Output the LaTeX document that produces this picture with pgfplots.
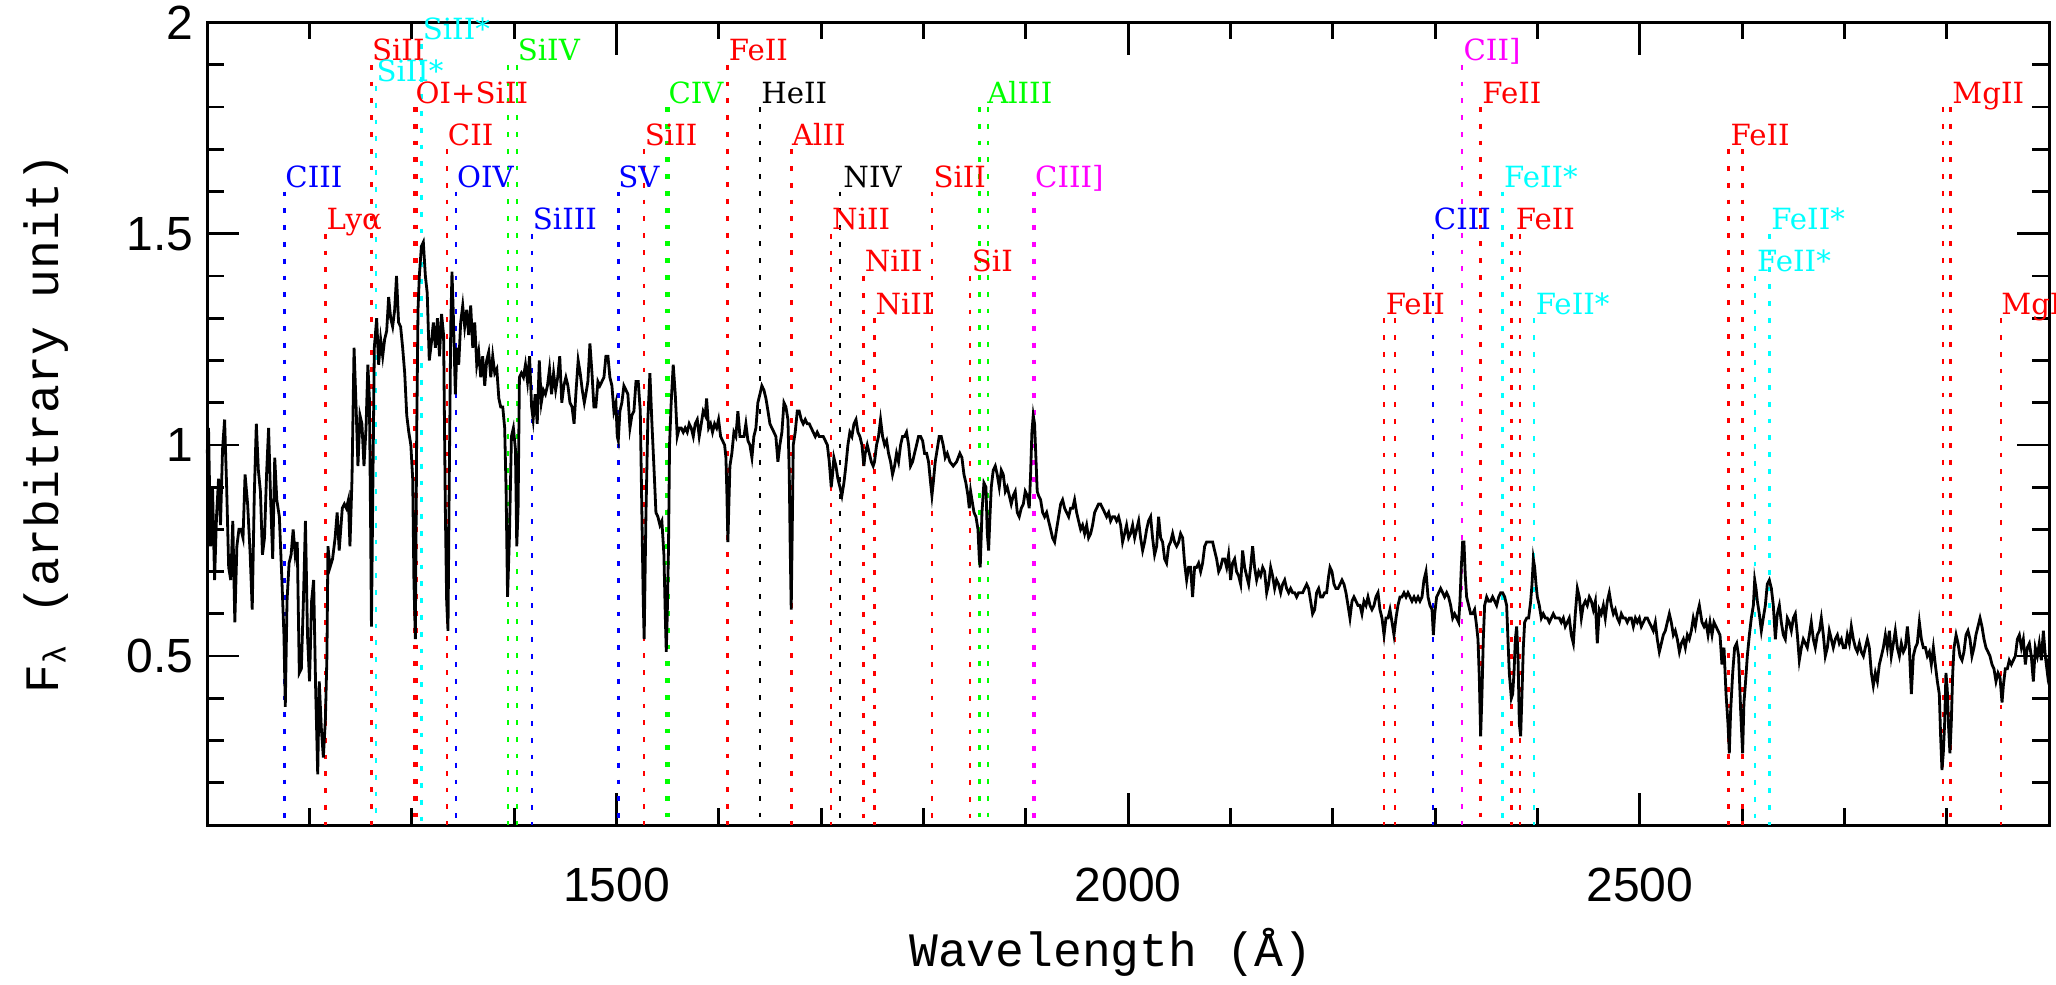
\documentclass[border=0pt]{standalone}
\usepackage{pgfplots}
\pgfplotsset{compat=1.18}
\usepackage{fontspec}
\setmainfont{Liberation Sans}
\setmonofont{Liberation Mono}
\newfontfamily\labfont{DejaVu Serif}
\definecolor{cyn}{rgb}{0,1,1}
\definecolor{mag}{rgb}{1,0,1}
\definecolor{grn}{rgb}{0,1,0}
\definecolor{rd}{rgb}{1,0,0}
\definecolor{blu}{rgb}{0,0,1}
\newcommand{\ml}[3]{\addplot[#1, line width=0.6pt, dash pattern=on 1.2pt off 3pt, forget plot] coordinates {(#2,#3) (#2,0.1)};}
\newcommand{\lb}[4]{\node[anchor=base west, text=#1, font={\labfont\fontsize{7.3}{8}\selectfont}, inner sep=0pt, yshift=1pt] at (axis cs:#2,#3) {#4};}
\begin{document}
\begin{tikzpicture}
\useasboundingbox (0,0) rectangle (514pt,246.25pt);
\begin{axis}[
  at={(51.8pt,40pt)}, anchor=south west, scale only axis,
  width=460.5pt, height=200.6pt,
  xmin=1100, xmax=2900, ymin=0.1, ymax=2,
  clip=false,
  xtick={1500,2000,2500}, minor xtick={1100,1200,...,2900},
  ytick={0.5,1,1.5,2}, minor ytick={0.1,0.2,...,2.0},
  major tick length=8pt, minor tick length=4.2pt,
  tick style={line width=0.7pt, black},
  axis line style={line width=0.75pt},
  /pgf/number format/assume math mode=true,
  /pgf/number format/1000 sep={},
  xticklabel style={font=\fontsize{12}{12}\selectfont, yshift=-7.3pt},
  yticklabel style={font=\fontsize{12}{12}\selectfont},
  xlabel={Wavelength (Å)},
  xlabel style={font=\ttfamily\fontsize{12}{12}\selectfont, at={(axis description cs:0.4906,-0.1585)}, anchor=center},
  ylabel={F\textsubscript{λ} (arbitrary unit)},
  ylabel style={font=\ttfamily\fontsize{12}{12}\selectfont, at={(axis description cs:-0.0875,0.5)}, anchor=center, rotate=0},
]
% marker lines
\ml{blu}{1175.7}{1.6}
\ml{rd}{1215.7}{1.5}
\ml{rd}{1260.4}{1.9}
\ml{cyn}{1264.7}{1.85}
\ml{rd}{1302.2}{1.8}
\ml{rd}{1304.4}{1.8}
\ml{cyn}{1309.3}{1.95}
\ml{rd}{1334.5}{1.7}
\ml{blu}{1343.0}{1.6}
\ml{grn}{1393.8}{1.9}
\ml{grn}{1402.8}{1.9}
\ml{blu}{1417.2}{1.5}
\ml{blu}{1501.8}{1.6}
\ml{rd}{1526.7}{1.7}
\ml{grn}{1548.2}{1.8}
\ml{grn}{1550.8}{1.8}
\ml{rd}{1608.5}{1.9}
\ml{black}{1640.4}{1.8}
\ml{rd}{1670.8}{1.7}
\ml{rd}{1709.6}{1.5}
\ml{black}{1718.6}{1.6}
\ml{rd}{1741.5}{1.4}
\ml{rd}{1751.9}{1.3}
\ml{rd}{1808.0}{1.6}
\ml{rd}{1845.5}{1.4}
\ml{grn}{1854.7}{1.8}
\ml{grn}{1862.8}{1.8}
\ml{mag}{1906.7}{1.6}
\ml{mag}{1908.7}{1.6}
\ml{rd}{2249.9}{1.3}
\ml{rd}{2260.8}{1.3}
\ml{blu}{2297.6}{1.5}
\ml{mag}{2326.0}{1.9}
\ml{rd}{2344.2}{1.8}
\ml{cyn}{2365.6}{1.6}
\ml{rd}{2374.5}{1.5}
\ml{rd}{2382.8}{1.5}
\ml{cyn}{2396.4}{1.3}
\ml{rd}{2586.7}{1.7}
\ml{rd}{2600.2}{1.7}
\ml{cyn}{2612.7}{1.4}
\ml{cyn}{2626.5}{1.5}
\ml{rd}{2796.4}{1.8}
\ml{rd}{2803.5}{1.8}
\ml{rd}{2853.0}{1.3}
% spectrum
\addplot[black, line width=0.7pt] coordinates {
(1100,0.98) (1101.3,1.04) (1103.3,0.76) (1105.2,0.90) (1107.2,0.68) (1109.1,0.83) (1111.1,0.92) (1113,0.81) (1115,0.99) (1117,1.06)
(1119,0.90) (1121,0.71) (1123,0.68) (1125,0.82) (1127,0.58) (1129,0.76) (1131,0.80) (1133,0.80) (1135,0.78) (1137,0.93)
(1139.5,0.86) (1142,0.74) (1144,0.61) (1146,0.88) (1148,1.05) (1150,0.94) (1152,0.89) (1154,0.74) (1156,0.78) (1158,0.93)
(1160,1.04) (1162,0.87) (1164,0.73) (1166,0.97) (1168,0.87) (1170.5,0.83) (1173,0.68) (1175,0.55) (1176.3,0.38) (1178,0.63)
(1180,0.72) (1182,0.74) (1184,0.80) (1186,0.74) (1188,0.77) (1190,0.46) (1192,0.47) (1194,0.63) (1196,0.82) (1198,0.55)
(1200,0.44) (1202,0.63) (1204,0.68) (1206,0.42) (1208,0.22) (1209.5,0.44) (1211.5,0.33) (1213.5,0.26) (1215.5,0.35) (1217,0.50)
(1218,0.76) (1220,0.71) (1222.5,0.73) (1225,0.78) (1227,0.84) (1229,0.75) (1232,0.85) (1234,0.86) (1236,0.85) (1238,0.87)
(1239.5,0.76) (1241.5,0.92) (1243.5,1.23) (1245.5,1.09) (1247.3,0.95) (1249.3,1.07) (1251.2,1.05) (1253.2,0.95) (1255.2,1.04) (1257,1.19)
(1258.5,1.11) (1259.7,0.81) (1260.5,0.57) (1262,0.93) (1263.3,1.23) (1265.6,1.30) (1267.5,1.19) (1269.5,1.25) (1271.5,1.21) (1273.4,1.25)
(1275.4,1.27) (1277.3,1.35) (1279.3,1.30) (1281.2,1.28) (1283.2,1.32) (1285,1.40) (1287,1.29) (1289,1.28) (1291,1.23) (1293,1.17)
(1295,1.07) (1297,1.03) (1299,1.00) (1300.8,0.92) (1302,0.68) (1303.4,0.54) (1304.7,1.02) (1306,1.32) (1307.3,1.40) (1309.3,1.47)
(1311.2,1.48) (1313.2,1.40) (1315,1.36) (1317,1.20) (1319,1.24) (1321,1.29) (1323,1.23) (1325,1.30) (1327,1.21) (1329,1.31)
(1331,1.26) (1332.7,0.85) (1334,0.63) (1335.3,0.56) (1336.6,0.93) (1338,1.28) (1339.2,1.41) (1340.5,1.31) (1342.5,1.12) (1344,1.23)
(1345.8,1.19) (1347.7,1.29) (1349.7,1.33) (1351.6,1.28) (1353.6,1.32) (1355.5,1.26) (1357.5,1.33) (1359.5,1.23) (1361.4,1.29) (1363.4,1.19)
(1365.3,1.22) (1367.3,1.16) (1369.2,1.21) (1371.2,1.14) (1373.1,1.20) (1375.1,1.22) (1377.1,1.16) (1379,1.21) (1381,1.17) (1383,1.18)
(1385,1.11) (1386.8,1.09) (1388.8,1.09) (1390.7,1.04) (1392.1,0.89) (1393.5,0.64) (1395.3,0.78) (1397.3,1.02) (1399.2,1.04) (1401.2,0.99)
(1402.5,0.76) (1403.8,0.85) (1405.1,1.16) (1407,1.17) (1409,1.16) (1411,1.19) (1413,1.15) (1415,1.21) (1417,1.09) (1418.5,1.06)
(1420.5,1.12) (1422.5,1.05) (1424.5,1.20) (1426.5,1.10) (1428.5,1.13) (1430.5,1.12) (1432.5,1.14) (1434.5,1.18) (1436.5,1.12) (1438.5,1.17)
(1440.5,1.13) (1442.5,1.16) (1444.5,1.21) (1446.5,1.10) (1448.5,1.14) (1450.5,1.16) (1452.5,1.14) (1454.5,1.10) (1456.5,1.09) (1458.5,1.05)
(1460.5,1.13) (1462.5,1.20) (1464.5,1.17) (1466.5,1.13) (1468.5,1.10) (1470,1.12)
(1472,1.15) (1474,1.24) (1476,1.17) (1477.9,1.09) (1479.8,1.09) (1481.8,1.15) (1483.7,1.14) (1485.7,1.15) (1487.7,1.16) (1489.6,1.21)
(1491.6,1.21) (1493.5,1.16) (1495.5,1.14) (1497.4,1.08) (1499.4,1.10) (1500.7,1.02) (1501.7,1.01) (1503.3,1.08) (1505.2,1.10) (1507.2,1.14)
(1509.2,1.13) (1511.1,1.12) (1513.1,1.04) (1515,1.07) (1517,1.08) (1519,1.15) (1521.2,1.15) (1523.2,1.08) (1524.5,0.88) (1526.1,0.63)
(1527,0.54) (1528.7,0.83) (1530.6,1.06) (1532.6,1.17) (1534.6,1.05) (1536.5,0.95) (1538.5,0.84) (1540.4,0.83) (1542.4,0.81) (1544.3,0.82)
(1546.3,0.74) (1547.6,0.60) (1548.6,0.51) (1549.5,0.59) (1550.8,0.76) (1551.8,1.00) (1553.4,1.10) (1555.4,1.19) (1557.4,1.12) (1559.3,1.02)
(1561.3,1.04) (1563.2,1.04) (1565.2,1.03) (1567.1,1.04) (1569.1,1.03) (1571,1.05) (1573,1.04) (1575,1.02) (1576.9,1.05) (1578.9,1.06)
(1580.8,1.02) (1582.8,1.05) (1584.7,1.08) (1586.7,1.07) (1588,1.11) (1590,1.04) (1591.9,1.05) (1593.8,1.03) (1595.8,1.05) (1597.8,1.04)
(1599.7,1.06) (1601.7,1.02) (1603.6,1.01) (1605.6,1.00) (1606.9,0.97) (1607.8,0.89) (1608.8,0.77) (1609.8,0.86) (1610.8,0.95) (1612.7,0.98)
(1614.7,1.03) (1616.6,1.02) (1618.6,1.08) (1620.6,1.02) (1622.5,1.02) (1624.5,1.02) (1626.4,1.05) (1628.4,1.01) (1630.3,1.00) (1632.3,0.97)
(1634.2,1.02) (1636.2,1.04) (1638.1,1.10) (1640.1,1.12) (1642,1.14) (1644,1.13) (1646,1.11) (1648,1.08) (1649.9,1.05) (1651.8,1.04)
(1653.8,1.03) (1655.7,1.02) (1657.7,0.96) (1659.6,1.00) (1661.6,1.03) (1663.6,1.10) (1665.5,1.09) (1667.5,1.06) (1668.8,0.93) (1669.7,0.76)
(1670.7,0.61) (1671.7,0.80) (1672.7,1.00) (1674.6,1.03) (1676.6,1.08) (1678.5,1.08) (1680.5,1.06) (1682.4,1.05) (1684.4,1.06) (1686.4,1.05)
(1688.3,1.05) (1690.3,1.04) (1692.2,1.03) (1694.2,1.02) (1696.1,1.03) (1698.1,1.02) (1700,1.02) (1702,1.02) (1704,1.01) (1706,1.00)
(1707.9,0.96) (1709.8,0.90) (1711.1,0.93) (1712.4,0.97) (1714.4,0.95) (1716.3,0.92) (1718.3,0.90) (1720.2,0.88) (1722.2,0.91) (1724.1,0.95)
(1726.1,1.00) (1728,1.03) (1730,1.02) (1732,1.05) (1734,1.06) (1735.9,1.03) (1737.8,1.02) (1739.8,1.00) (1741.7,0.95) (1743,0.98)
(1745,1.00) (1747,0.98) (1749,0.96) (1750.8,0.95) (1752.1,0.96) (1754.1,1.00) (1756,1.02) (1758,1.06) (1760,1.02) (1762,1.00)
(1763.9,1.01) (1765.8,0.98) (1767.8,0.96) (1769.7,0.93) (1771.7,0.95) (1773.6,0.98) (1775.6,0.96) (1777.6,1.00) (1779.5,1.02) (1781.5,1.02)
(1783.4,1.03) (1785.4,1.00) (1787.3,0.95) (1789.3,0.96) (1791.2,0.98) (1793.2,1.00) (1795.1,1.02) (1797.1,1.02) (1799.1,1.01) (1801,0.98)
(1803,0.98) (1804.9,0.96) (1806.9,0.91) (1808.2,0.88) (1809.5,0.91) (1811.4,0.96) (1813.4,0.99) (1815.3,1.02) (1817.3,1.02) (1819.2,1.00)
(1821.2,0.97) (1823.2,0.98) (1825.8,0.96) (1829,0.95) (1832.3,0.96) (1835.5,0.98)
(1837.5,0.97) (1839.5,0.93) (1841.4,0.91) (1843.4,0.88) (1844.7,0.85) (1846,0.89) (1847.3,0.87) (1849.3,0.84) (1851.2,0.83) (1853.2,0.80)
(1854.5,0.73) (1855.4,0.71) (1857.1,0.84) (1859,0.91) (1861,0.90) (1862.3,0.79) (1863.6,0.75) (1864.9,0.83) (1866.2,0.90) (1868.1,0.94)
(1870.1,0.95) (1872,0.93) (1874,0.90) (1876,0.94) (1877.9,0.93) (1879.9,0.89) (1881.8,0.90) (1883.8,0.88) (1885.7,0.86) (1887.7,0.88)
(1889.6,0.89) (1891.6,0.84) (1893.5,0.83) (1895.5,0.85) (1897.5,0.86) (1899.4,0.89) (1901.4,0.88) (1903.3,0.85) (1904.6,0.93) (1905.9,1.03)
(1907.2,1.07) (1908.5,1.05) (1909.8,0.97) (1911.1,0.89) (1912.4,0.88) (1914.4,0.87) (1916.4,0.84) (1918.3,0.83) (1920.3,0.84) (1922.2,0.82)
(1924.2,0.80) (1926.1,0.78) (1928.1,0.77) (1930,0.80) (1932,0.83) (1934,0.86) (1935.9,0.87) (1937.9,0.85) (1939.8,0.84) (1941.8,0.83)
(1943.7,0.85) (1945.7,0.85) (1947.6,0.87) (1949.6,0.84) (1951.5,0.82) (1953.5,0.80) (1955.4,0.81) (1957.4,0.79) (1959.4,0.81) (1961.3,0.78)
(1963.3,0.79) (1965.2,0.81) (1967.2,0.84) (1969.1,0.85) (1971.1,0.86) (1973,0.86) (1975,0.85) (1977,0.84) (1978.9,0.83) (1980.9,0.84)
(1982.8,0.82) (1984.8,0.83) (1986.7,0.83) (1988.7,0.82) (1990.6,0.83) (1992.6,0.81) (1994.5,0.77) (1996.5,0.79) (1998.4,0.81) (2000.4,0.78)
(2002.3,0.79) (2004.3,0.81) (2006.3,0.78) (2008.2,0.80) (2010.2,0.82) (2012.1,0.78) (2014.1,0.75) (2016,0.77) (2018,0.80) (2019.9,0.82)
(2021.9,0.83) (2023.8,0.78) (2025.8,0.74) (2027.8,0.76) (2029.7,0.83) (2031.7,0.78) (2033.6,0.77) (2035.6,0.73) (2037.5,0.72) (2039.5,0.76)
(2041.4,0.77) (2043.4,0.79) (2045.3,0.77) (2047.3,0.76) (2049.3,0.77) (2051.2,0.79) (2053.2,0.78) (2055.1,0.72) (2057.1,0.68) (2059,0.71)
(2061,0.71) (2062.9,0.64) (2064.9,0.71) (2066.8,0.71) (2068.8,0.72) (2070.8,0.70) (2072.7,0.72) (2074.7,0.76) (2076.6,0.77) (2078.6,0.77)
(2080.5,0.77) (2082.5,0.77) (2084.4,0.75) (2086.4,0.73) (2088.4,0.70) (2090.3,0.71) (2092.3,0.73) (2094.2,0.73) (2096.2,0.71) (2098.1,0.74)
(2100.1,0.68) (2102,0.72) (2104,0.73) (2105.9,0.70) (2107.9,0.69) (2109.9,0.67) (2111.8,0.75) (2113.8,0.71) (2115.7,0.69) (2117.7,0.67)
(2119.6,0.71) (2121.6,0.76) (2123.5,0.71) (2125.5,0.68) (2127.5,0.70) (2129.4,0.69) (2131.4,0.71) (2133.3,0.70) (2135.3,0.65) (2137.2,0.67)
(2139.2,0.71) (2141.1,0.69) (2143.1,0.66) (2145,0.68) (2147,0.67) (2149,0.65) (2150.9,0.67) (2152.9,0.68) (2154.8,0.66) (2156.8,0.65)
(2158.7,0.66) (2160.7,0.65) (2162.6,0.65) (2164.6,0.64) (2166.5,0.65) (2168.5,0.65) (2170.5,0.65) (2172.4,0.66) (2174.4,0.67) (2176.3,0.66)
(2178.3,0.63) (2180.2,0.60) (2182.2,0.61) (2184.1,0.65) (2186.1,0.66) (2188,0.64) (2190,0.64) (2192,0.65) (2193.9,0.65) (2195.9,0.69)
(2197.2,0.71) (2199.1,0.70) (2201.1,0.67) (2203,0.66) (2205,0.66) (2207,0.67) (2208.9,0.68) (2210.9,0.67) (2212.8,0.65) (2214.8,0.62)
(2216.7,0.59) (2218.7,0.63) (2220.6,0.64) (2222.6,0.63) (2224.5,0.62) (2226.5,0.62) (2228.4,0.60) (2230.4,0.63) (2232.4,0.62) (2234.3,0.64)
(2236.3,0.62) (2238.2,0.61) (2240.2,0.62) (2242.1,0.64) (2244.1,0.65) (2246,0.61) (2248,0.59) (2250,0.55) (2251.9,0.59) (2253.9,0.59)
(2255.8,0.61) (2257.8,0.58) (2259.7,0.55) (2261.7,0.59) (2263.6,0.62) (2265.6,0.64) (2267.5,0.64) (2269.5,0.65) (2271.5,0.64) (2273.4,0.65)
(2275.4,0.64) (2277.3,0.63) (2279.3,0.64) (2281.2,0.63) (2283.2,0.64) (2285.1,0.63) (2287.1,0.64) (2289,0.68) (2291,0.70) (2293,0.64)
(2294.9,0.62) (2296.9,0.61) (2298.2,0.55) (2299.5,0.60) (2301.4,0.64) (2303.4,0.65) (2305.3,0.66) (2307.3,0.65) (2309.2,0.64) (2311.2,0.65)
(2313.1,0.64) (2315.1,0.62) (2317.1,0.59) (2319,0.60) (2321,0.59) (2322.9,0.58) (2324.2,0.63) (2325.5,0.71) (2326.8,0.77) (2328.1,0.77)
(2329.4,0.69) (2330.7,0.64) (2332.7,0.62) (2334.6,0.60) (2336.6,0.60) (2338.5,0.61) (2340.5,0.57) (2341.8,0.54) (2343.1,0.45) (2344.4,0.31)
(2345.7,0.41) (2347,0.54) (2348.3,0.62) (2350.3,0.64) (2352.2,0.63) (2354.2,0.63) (2356.1,0.64) (2358.1,0.63) (2360,0.62) (2362,0.64)
(2364,0.65) (2365.9,0.65) (2367.9,0.64) (2369.8,0.62) (2371.1,0.54) (2372.4,0.46) (2374.4,0.40) (2375.7,0.41) (2377,0.46) (2378.3,0.54)
(2379.6,0.57) (2380.9,0.50) (2382.2,0.34) (2383.5,0.31) (2384.8,0.41) (2386.1,0.52) (2387.4,0.58) (2389.4,0.59) (2391.3,0.59) (2393.3,0.63)
(2394.6,0.67) (2395.9,0.73) (2397.2,0.71) (2398.5,0.67) (2399.8,0.64) (2401.7,0.62) (2403.7,0.59) (2405.6,0.60) (2407.6,0.59) (2409.5,0.59)
(2411.5,0.58) (2413.5,0.59) (2415.4,0.60) (2417.4,0.59) (2419.3,0.59) (2421.3,0.59) (2423.2,0.58) (2425.2,0.59) (2427.1,0.57) (2429.1,0.58)
(2431,0.59) (2433,0.55) (2435,0.53) (2436.9,0.60) (2438.9,0.66) (2440.8,0.64) (2442.8,0.59) (2444.7,0.62) (2446.7,0.63) (2448.6,0.62)
(2450.6,0.64) (2452.6,0.63) (2454.5,0.61) (2456.5,0.63) (2458.4,0.53) (2460.4,0.61) (2462.3,0.60) (2464.3,0.62) (2466.2,0.59) (2468.2,0.63)
(2470.1,0.65) (2472.1,0.62) (2474.1,0.60) (2476,0.61) (2478,0.59) (2479.9,0.58) (2481.9,0.60) (2483.8,0.59) (2485.8,0.59) (2487.7,0.58)
(2489.7,0.59) (2491.7,0.59) (2493.6,0.57) (2495.6,0.59) (2497.5,0.58) (2499.5,0.59) (2501.4,0.57) (2503.4,0.58) (2505.3,0.59) (2507.3,0.59)
(2509.2,0.58) (2511.2,0.57) (2513.1,0.56) (2515.1,0.58) (2517,0.54) (2519,0.51) (2521,0.53) (2522.9,0.55) (2524.9,0.56) (2526.8,0.58)
(2528.8,0.60) (2530.7,0.58) (2532.7,0.55) (2534.6,0.56) (2536.6,0.54) (2538.6,0.51) (2540.5,0.53) (2542.5,0.54) (2544.4,0.52) (2546.4,0.55)
(2548.3,0.54) (2550.3,0.56) (2552.2,0.59) (2554.2,0.57) (2556.1,0.60) (2558.1,0.62)
(2560.7,0.58) (2562.7,0.57) (2564.6,0.58) (2566.6,0.55) (2568.5,0.58) (2570.5,0.55) (2572.4,0.58) (2574.4,0.57) (2576.3,0.56) (2578.3,0.55)
(2580.2,0.48) (2582.2,0.52) (2584.2,0.41) (2586.1,0.34) (2587.4,0.27) (2588.7,0.37) (2590.7,0.46) (2592.6,0.52) (2594.6,0.53) (2596.5,0.50)
(2598.5,0.37) (2600.4,0.27) (2601.7,0.39) (2603,0.43) (2605,0.50) (2607,0.55) (2608.9,0.59) (2610.9,0.62) (2612.2,0.68) (2613.5,0.66)
(2614.8,0.63) (2616.7,0.60) (2618.7,0.56) (2620.6,0.59) (2622.6,0.62) (2624.5,0.67) (2626.5,0.68) (2628.5,0.66) (2630.4,0.62) (2632.4,0.54)
(2634.3,0.60) (2636.3,0.62) (2638.2,0.58) (2640.2,0.55) (2642.1,0.54) (2644.1,0.59) (2646,0.58) (2648,0.56) (2650,0.59) (2651.9,0.60)
(2653.9,0.55) (2655.8,0.49) (2657.8,0.52) (2659.7,0.54) (2661.7,0.53) (2663.6,0.52) (2665.6,0.55) (2667.5,0.58) (2669.5,0.54) (2671.4,0.52)
(2673.4,0.55) (2675.4,0.56) (2677.3,0.59) (2679.3,0.55) (2681.2,0.50) (2683.2,0.52) (2685.1,0.56) (2687.1,0.54) (2689,0.52) (2691,0.54)
(2693,0.55) (2694.9,0.53) (2696.9,0.54) (2698.8,0.52) (2700.8,0.52) (2702.7,0.55) (2704.7,0.53) (2706.6,0.57) (2708.6,0.54) (2710.6,0.52)
(2712.5,0.51) (2714.5,0.53) (2716.4,0.51) (2718.4,0.50) (2720.3,0.52) (2722.3,0.54) (2724.2,0.52) (2726.2,0.46) (2728.1,0.43) (2730.1,0.46)
(2732.1,0.44) (2734,0.48) (2736,0.50) (2737.9,0.52) (2739.9,0.55) (2741.8,0.52) (2743.8,0.56) (2745.7,0.50) (2747.7,0.53) (2749.6,0.56)
(2751.6,0.52) (2753.6,0.50) (2755.5,0.53) (2757.5,0.51) (2759.4,0.52) (2761.4,0.57) (2763.3,0.52) (2765.3,0.41) (2767.2,0.50) (2769.2,0.52)
(2771.1,0.53) (2773.1,0.58) (2775.1,0.54) (2777,0.52) (2779,0.52) (2780.9,0.50) (2782.9,0.51) (2784.8,0.48) (2786.8,0.52) (2788.7,0.48)
(2790.7,0.44) (2792.6,0.41) (2793.9,0.31) (2795.2,0.23) (2796.5,0.27) (2797.8,0.34) (2799.1,0.46) (2800.4,0.42) (2801.7,0.33) (2803,0.27)
(2804.3,0.34) (2805.7,0.46) (2807,0.52) (2809,0.55) (2810.9,0.53) (2812.8,0.50) (2814.8,0.49) (2816.7,0.51) (2818.7,0.55) (2820.6,0.56)
(2822.6,0.54) (2824.5,0.50) (2826.5,0.52) (2828.4,0.55) (2830.4,0.57) (2832.4,0.59) (2834.3,0.57) (2836.3,0.54) (2838.2,0.52) (2840.2,0.51)
(2842.1,0.50) (2844.1,0.48) (2846,0.47) (2848,0.44) (2850,0.46) (2851.9,0.45) (2853.9,0.39) (2855.2,0.43) (2857.1,0.47) (2859.1,0.47)
(2861,0.49) (2863,0.48) (2864.9,0.49) (2866.9,0.50) (2868.9,0.54) (2870.8,0.55) (2872.8,0.52) (2874.7,0.54) (2876.7,0.48) (2878.6,0.52)
(2880.6,0.53) (2882.5,0.50) (2884.5,0.44) (2886.4,0.52) (2888.4,0.50) (2890.3,0.53) (2892.3,0.49) (2894.3,0.56) (2896.2,0.50) (2898.2,0.46)
(2900,0.50)
};
% labels
\lb{blu}{1175.7}{1.6}{CIII}
\lb{rd}{1216}{1.5}{Lyα}
\lb{rd}{1260.4}{1.9}{SiII}
\lb{cyn}{1264.7}{1.85}{SiII*}
\lb{rd}{1303}{1.8}{OI+SiII}
\lb{cyn}{1310}{1.95}{SiII*}
\lb{rd}{1334.5}{1.7}{CII}
\lb{blu}{1343.5}{1.6}{OIV}
\lb{grn}{1402.8}{1.9}{SiIV}
\lb{blu}{1417.5}{1.5}{SiIII}
\lb{blu}{1501}{1.6}{SV}
\lb{rd}{1527}{1.7}{SiII}
\lb{grn}{1550}{1.8}{CIV}
\lb{rd}{1609}{1.9}{FeII}
\lb{black}{1640.8}{1.8}{HeII}
\lb{rd}{1670.8}{1.7}{AlII}
\lb{black}{1721}{1.6}{NIV}
\lb{rd}{1710}{1.5}{NiII}
\lb{rd}{1741.8}{1.4}{NiII}
\lb{rd}{1752.3}{1.3}{NiII}
\lb{rd}{1809}{1.6}{SiII}
\lb{rd}{1846.5}{1.4}{SiI}
\lb{grn}{1861.5}{1.8}{AlIII}
\lb{mag}{1908.3}{1.6}{CIII]}
\lb{rd}{2250.9}{1.3}{FeII}
\lb{blu}{2298}{1.5}{CIII}
\lb{mag}{2327}{1.9}{CII]}
\lb{rd}{2345.4}{1.8}{FeII}
\lb{cyn}{2366.5}{1.6}{FeII*}
\lb{rd}{2378}{1.5}{FeII}
\lb{cyn}{2397.5}{1.3}{FeII*}
\lb{rd}{2588}{1.7}{FeII}
\lb{cyn}{2627.6}{1.5}{FeII*}
\lb{cyn}{2613.9}{1.4}{FeII*}
\lb{rd}{2804.7}{1.8}{MgII}
\lb{rd}{2852.5}{1.3}{MgI}
\end{axis}
\end{tikzpicture}
\end{document}
